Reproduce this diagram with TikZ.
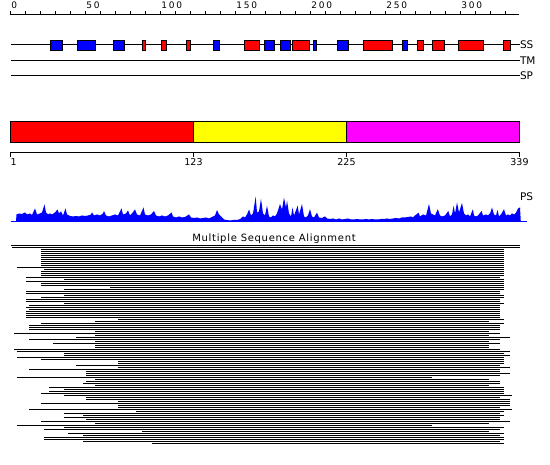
\documentclass[tikz,border=0pt]{standalone}
\usepackage{fontspec}
\setmainfont{DejaVu Sans}
\usetikzlibrary{positioning}
\definecolor{ssHelix}{HTML}{FF0000}
\definecolor{ssStrand}{HTML}{0000FF}
\definecolor{domOne}{HTML}{FF0000}
\definecolor{domTwo}{HTML}{FFFF00}
\definecolor{domThree}{HTML}{FF00FF}
\definecolor{psBlue}{HTML}{0000FF}

\begin{document}
\begin{tikzpicture}[x=1pt,y=-1pt,line cap=butt,line join=miter]
\path[fill=white] (0,0) rectangle (550,465);
\tikzset{axis/.style={draw=black,line width=1pt},ssbox/.style={draw=black,line width=1pt},domainbox/.style={draw=black,line width=1pt},msarow/.style={draw=black,line width=1pt},lbl/.style={inner sep=0pt,font=\fontsize{10.5}{12}\selectfont},small/.style={inner sep=0pt,font=\fontsize{9}{10}\selectfont\addfontfeatures{LetterSpace=20}}}
\draw[axis] (10.7,14.5) -- (519.2,14.5);
\foreach \r in {0,10,...,330} \draw[axis] ({10.7+1.5*\r},15) -- ({10.7+1.5*\r},11.5);
\foreach \r in {0,50,...,300} \node[small,anchor=base west] (ruler\r) at ({11.2+1.5*\r},8.6) {\r};
\draw[axis] (10.7,44.5) -- (519.5,44.5); \draw[axis] (10.7,60.5) -- (519.5,60.5); \draw[axis] (10.7,75.5) -- (519.5,75.5);
\foreach \a/\b/\c in {50.5/62.5/ssStrand,77.5/95.5/ssStrand,113.5/124.5/ssStrand,142.5/145.5/ssHelix,161.5/166.5/ssHelix,186.5/190.5/ssHelix,213.5/219.5/ssStrand,244.5/259.5/ssHelix,264.5/274/ssStrand,280.5/290/ssStrand,292.5/309.5/ssHelix,313.5/316.5/ssStrand,337.5/348.5/ssStrand,363.5/392.5/ssHelix,402.5/407.5/ssStrand,417.5/423.5/ssHelix,432.5/444.5/ssHelix,458.5/483.5/ssHelix,503.5/510.5/ssHelix}
  \draw[ssbox,fill=\c] (\a,40.5) rectangle (\b,50.5);
\node[lbl,anchor=west] (ss) at (519.8,45) {SS};
\node[lbl,anchor=west] (tm) at (519.8,61) {TM};
\node[lbl,anchor=west] (sp) at (519.8,76) {SP};
\draw[domainbox,fill=domOne] (10.5,121.5) rectangle (193.5,142.5);
\draw[domainbox,fill=domTwo] (193.5,121.5) rectangle (346.5,142.5);
\draw[domainbox,fill=domThree] (346.5,121.5) rectangle (519.5,142.5);
\draw[axis] (10.5,152.5) -- (519.5,152.5);
\foreach \x in {10.5,193.5,346.5,519.5} \draw[axis] (\x,152.5) -- (\x,157.5);
\node[inner sep=0pt,font=\fontsize{9.5}{11}\selectfont,anchor=north west] (first) at (10.3,158) {1};
\node[inner sep=0pt,font=\fontsize{9.5}{11}\selectfont,anchor=north] (dom123) at (193.5,158) {123};
\node[inner sep=0pt,font=\fontsize{9.5}{11}\selectfont,anchor=north] (dom225) at (346.5,158) {225};
\node[inner sep=0pt,font=\fontsize{9.5}{11}\selectfont,anchor=north] (last) at (519.5,158) {339};
\fill[psBlue] (16,221.5) foreach \x/\h in {16.5/7,19/8,22/7.5,25/9,27/7,30/8,32/6.5,35/13,37/7,40/8,42/9,44.5/17,46/9,48/7,50/8,52/7,55/9,57.5/12,59/8,61/10,63/6,65.5/13,67/7,70/5.5,73/5,76/5.5,79/5,82/6,85/5.5,88/6,91/7,92/9,94/6,97/7,100/6,103/8,104/10.5,106/6,109/5,112/6,115/7,118/6,121.5/13,123/7,126/8,128/11,130/6,132/8,135/12,137/7,140/6,143.5/14,145/7,148/6,151/7,154/10.5,156/6,159/5,162/6,165/5,168/6,171.5/9,173/5,176/4,179/5,182/4,185/4.5,189/7,191/4,194/3.5,197/4,200/3,203/3.5,206/4,209/3,212/4.5,215/6,217/11.5,219/7,221/5,224/2,227/1.5,230/1,233/1.5,236/1.5,239/2,241/3,243/5,245/4,247/7,249/12,251/6,253/8,255.7/25,257/9,259/10,261/22.8,263/8,265/6,267/15.8,269/5,271/4,273/6,275/5,277/8,280/17.5,282/12,284/23.8,286/14,287/21,289/8,291/5,292.5/14,294/6,297.7/15.8,299/7,302/17.5,304/5,306/4,308/6,310/12.3,312/5,314/4,317/8.8,319/4,322/3.5,325/5,327/3,330/2.5,333/3,336/2,339/3,342/2,345/2.5,348/3,351/2,354/2,357/2.5,360/2,363/2,366/2.5,369/2,372/2.5,375/2,378/2,381/2.5,384/2.5,387/3,390/2.5,393/3,396/3.5,399/3,402/4,405/4,408/4.5,411/5,413/4,415/6,418.6/8.8,420/5,423/7,426/6,429/17.5,431/8,433/7,435/6,437.8/12.3,440/6,442/5,445/6,448.3/10.5,450/5,452/7,453.6/15.8,455/8,457/19,459/9,462/18.6,464/8,466/6,468/7,470/5,472.9/12.3,474/6,476/5,478/6,481.6/10.5,483/6,486/7,488/6,490/8,492/14,494/7,496/6,497.5/11.6,499/5,501/7,504/12.3,506/6,508/7,510/6,512/8,514/7,516/9,518/13,520/14} { -- (\x,{221.5-\h}) } -- (520.8,221.5) -- cycle;
\draw[psBlue,line width=1pt] (10.5,221.5) -- (527,221.5);
\node[lbl,anchor=west] (ps) at (519.8,196.5) {PS};
\node[inner sep=0pt,font=\fontsize{10}{12}\selectfont\addfontfeatures{LetterSpace=7}] (msa) at (274,238.5) {Multiple Sequence Alignment};
\foreach \s/\e [count=\k from 0] in {11/520,12/520,41/504,41/504,41/504,41/504,41/504,41/504,41/504,41/504,41/504,17/504,44/504,41/504,41/504,41/504,26/500,64/504,26/504,41/504,41/504,110/504,64/504,26/500,26/500,64/504,41/504,26/500,26/500,64/504,29/500,26/500,29/500,26/500,26/500,26/500,26/500,118/504,95/489,41/504,29/500,29/500,29/500,95/489,14/500,95/489,76/510,29/500,95/489,53/500,95/489,95/489,14/500,17/510,64/504,64/510,17/504,41/504,118/504,118/504,76/500,118/510,29/500,86/500,86/510,86/500,17/432,95/489,86/500,83/500,95/489,49/504,64/504,49/504,41/504,64/512,86/500,86/510,118/510,41/510,118/510,118/500,29/512,136/504,64/500,83/504,64/500,86/500,41/510,95/489,17/432,64/504,44/500,142/489,68/504,83/500,44/504,44/504,83/500,152/504}
  \draw[msarow] (\s,{245.5+2*\k}) -- (\e,{245.5+2*\k});
\end{tikzpicture}
\end{document}
